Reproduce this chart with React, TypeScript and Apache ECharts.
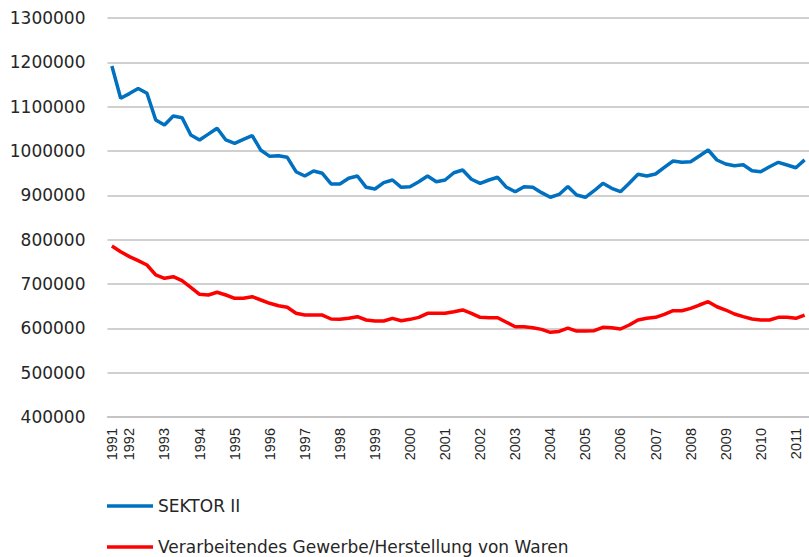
import React, { useEffect, useRef } from "react";
import * as echarts from "echarts";

// Quarterly categories: 1991 Q3 ... 2011 Q2
const firstYear = 1991;
const firstQuarter = 3;
const quarterCount = 80;
const categories: string[] = [];
for (let k = 0; k < quarterCount; k++) {
  const q0 = firstQuarter - 1 + k;
  const y = firstYear + Math.floor(q0 / 4);
  const q = (q0 % 4) + 1;
  categories.push(`${y} Q${q}`);
}

const sektorII = [
  1191600, 1119000, 1129500, 1141000, 1130200, 1070000, 1058700, 1079000,
  1075200, 1036200, 1024900, 1038000, 1051300, 1024900, 1017400, 1026000,
  1034600, 1001600, 988000, 989500, 985800, 953300, 943600, 954900,
  949700, 925600, 925600, 938400, 943600, 918100, 914300, 928500,
  934600, 918100, 919500, 930700, 943600, 930700, 934600, 951000,
  957100, 936200, 927100, 934600, 940700, 918100, 908200, 919500,
  918100, 906000, 895600, 902000, 920000, 900700, 895600, 910400,
  927100, 915900, 908200, 927100, 947400, 943600, 948100, 963200,
  977400, 974500, 975900, 988700, 1002300, 979700, 970700, 966800,
  969100, 955600, 953300, 964600, 974500, 968400, 962300, 980000,
];

const verarbeitendes = [
  785800, 772900, 761700, 752600, 742900, 720400, 712900, 716500,
  707500, 692600, 676800, 675200, 681300, 675200, 667700, 667700,
  671400, 663900, 656500, 651000, 647400, 633900, 630000, 630000,
  630000, 621000, 620500, 622600, 626300, 618800, 616500, 616500,
  622600, 617200, 620300, 624800, 633900, 633900, 633900, 637500,
  641400, 633900, 624800, 624000, 624000, 613600, 603700, 603700,
  601500, 597700, 591000, 593000, 600500, 593900, 593900, 594600,
  602300, 601500, 598500, 607500, 618800, 622600, 624800, 631600,
  639700, 639700, 645100, 652600, 660000, 648700, 641300, 632300,
  626300, 621000, 618800, 618800, 624800, 624800, 622600, 630000,
];

const seriesNames = ["SEKTOR II", "Verarbeitendes Gewerbe/Herstellung von Waren"];
const seriesColors = ["#0070C0", "#FF0000"];

const yMin = 400000;
const yMax = 1300000;
const yStep = 100000;

export default function App() {
  const ref = useRef<HTMLDivElement>(null);

  useEffect(() => {
    if (!ref.current) return;
    const chart = echarts.init(ref.current, undefined, { renderer: "svg" });
    const textColor = "#262626";
    const gridColor = "#c0c0c0";
    const legendBase = {
      orient: "vertical",
      left: 107,
      padding: 0,
      itemWidth: 46,
      itemHeight: 3.5,
      icon: "rect",
      textStyle: {
        fontFamily: "'DejaVu Sans', sans-serif",
        fontSize: 17,
        lineHeight: 20,
        color: textColor,
      },
    };
    chart.setOption({
      animation: false,
      backgroundColor: "#ffffff",
      grid: {
        left: 107.5,
        right: 0,
        top: 18,
        bottom: 140,
        containLabel: false,
        outerBoundsMode: "none",
      },
      legend: [
        { ...legendBase, top: 496, data: [seriesNames[0]] },
        { ...legendBase, top: 537, data: [seriesNames[1]] },
      ],
      xAxis: {
        type: "category",
        data: categories,
        boundaryGap: true,
        axisLine: { show: true, lineStyle: { color: gridColor, width: 1.5 } },
        axisTick: { show: false },
        splitLine: { show: false },
        axisLabel: {
          rotate: 90,
          margin: 11,
          interval: (index: number, value: string) =>
            index === 0 || value.endsWith("Q1"),
          formatter: (value: string) => value.slice(0, 4),
          fontFamily: "'Liberation Sans', sans-serif",
          fontSize: 14.5,
          color: textColor,
        },
      },
      yAxis: {
        type: "value",
        min: yMin,
        max: yMax,
        interval: yStep,
        axisLine: { show: false },
        axisTick: { show: false },
        splitLine: { show: true, lineStyle: { color: gridColor, width: 1.5 } },
        axisLabel: {
          margin: 22,
          formatter: (v: number) => String(v),
          fontFamily: "'DejaVu Sans', sans-serif",
          fontSize: 17,
          color: textColor,
        },
      },
      series: [
        {
          name: seriesNames[0],
          type: "line",
          data: sektorII,
          symbol: "none",
          color: seriesColors[0],
          lineStyle: { color: seriesColors[0], width: 3.5 },
        },
        {
          name: seriesNames[1],
          type: "line",
          data: verarbeitendes,
          symbol: "none",
          color: seriesColors[1],
          lineStyle: { color: seriesColors[1], width: 3.5 },
        },
      ],
    });
    return () => chart.dispose();
  }, []);

  return (
    <div
      ref={ref}
      style={{ position: "absolute", left: 0, top: 0, width: 809, height: 557 }}
    />
  );
}
